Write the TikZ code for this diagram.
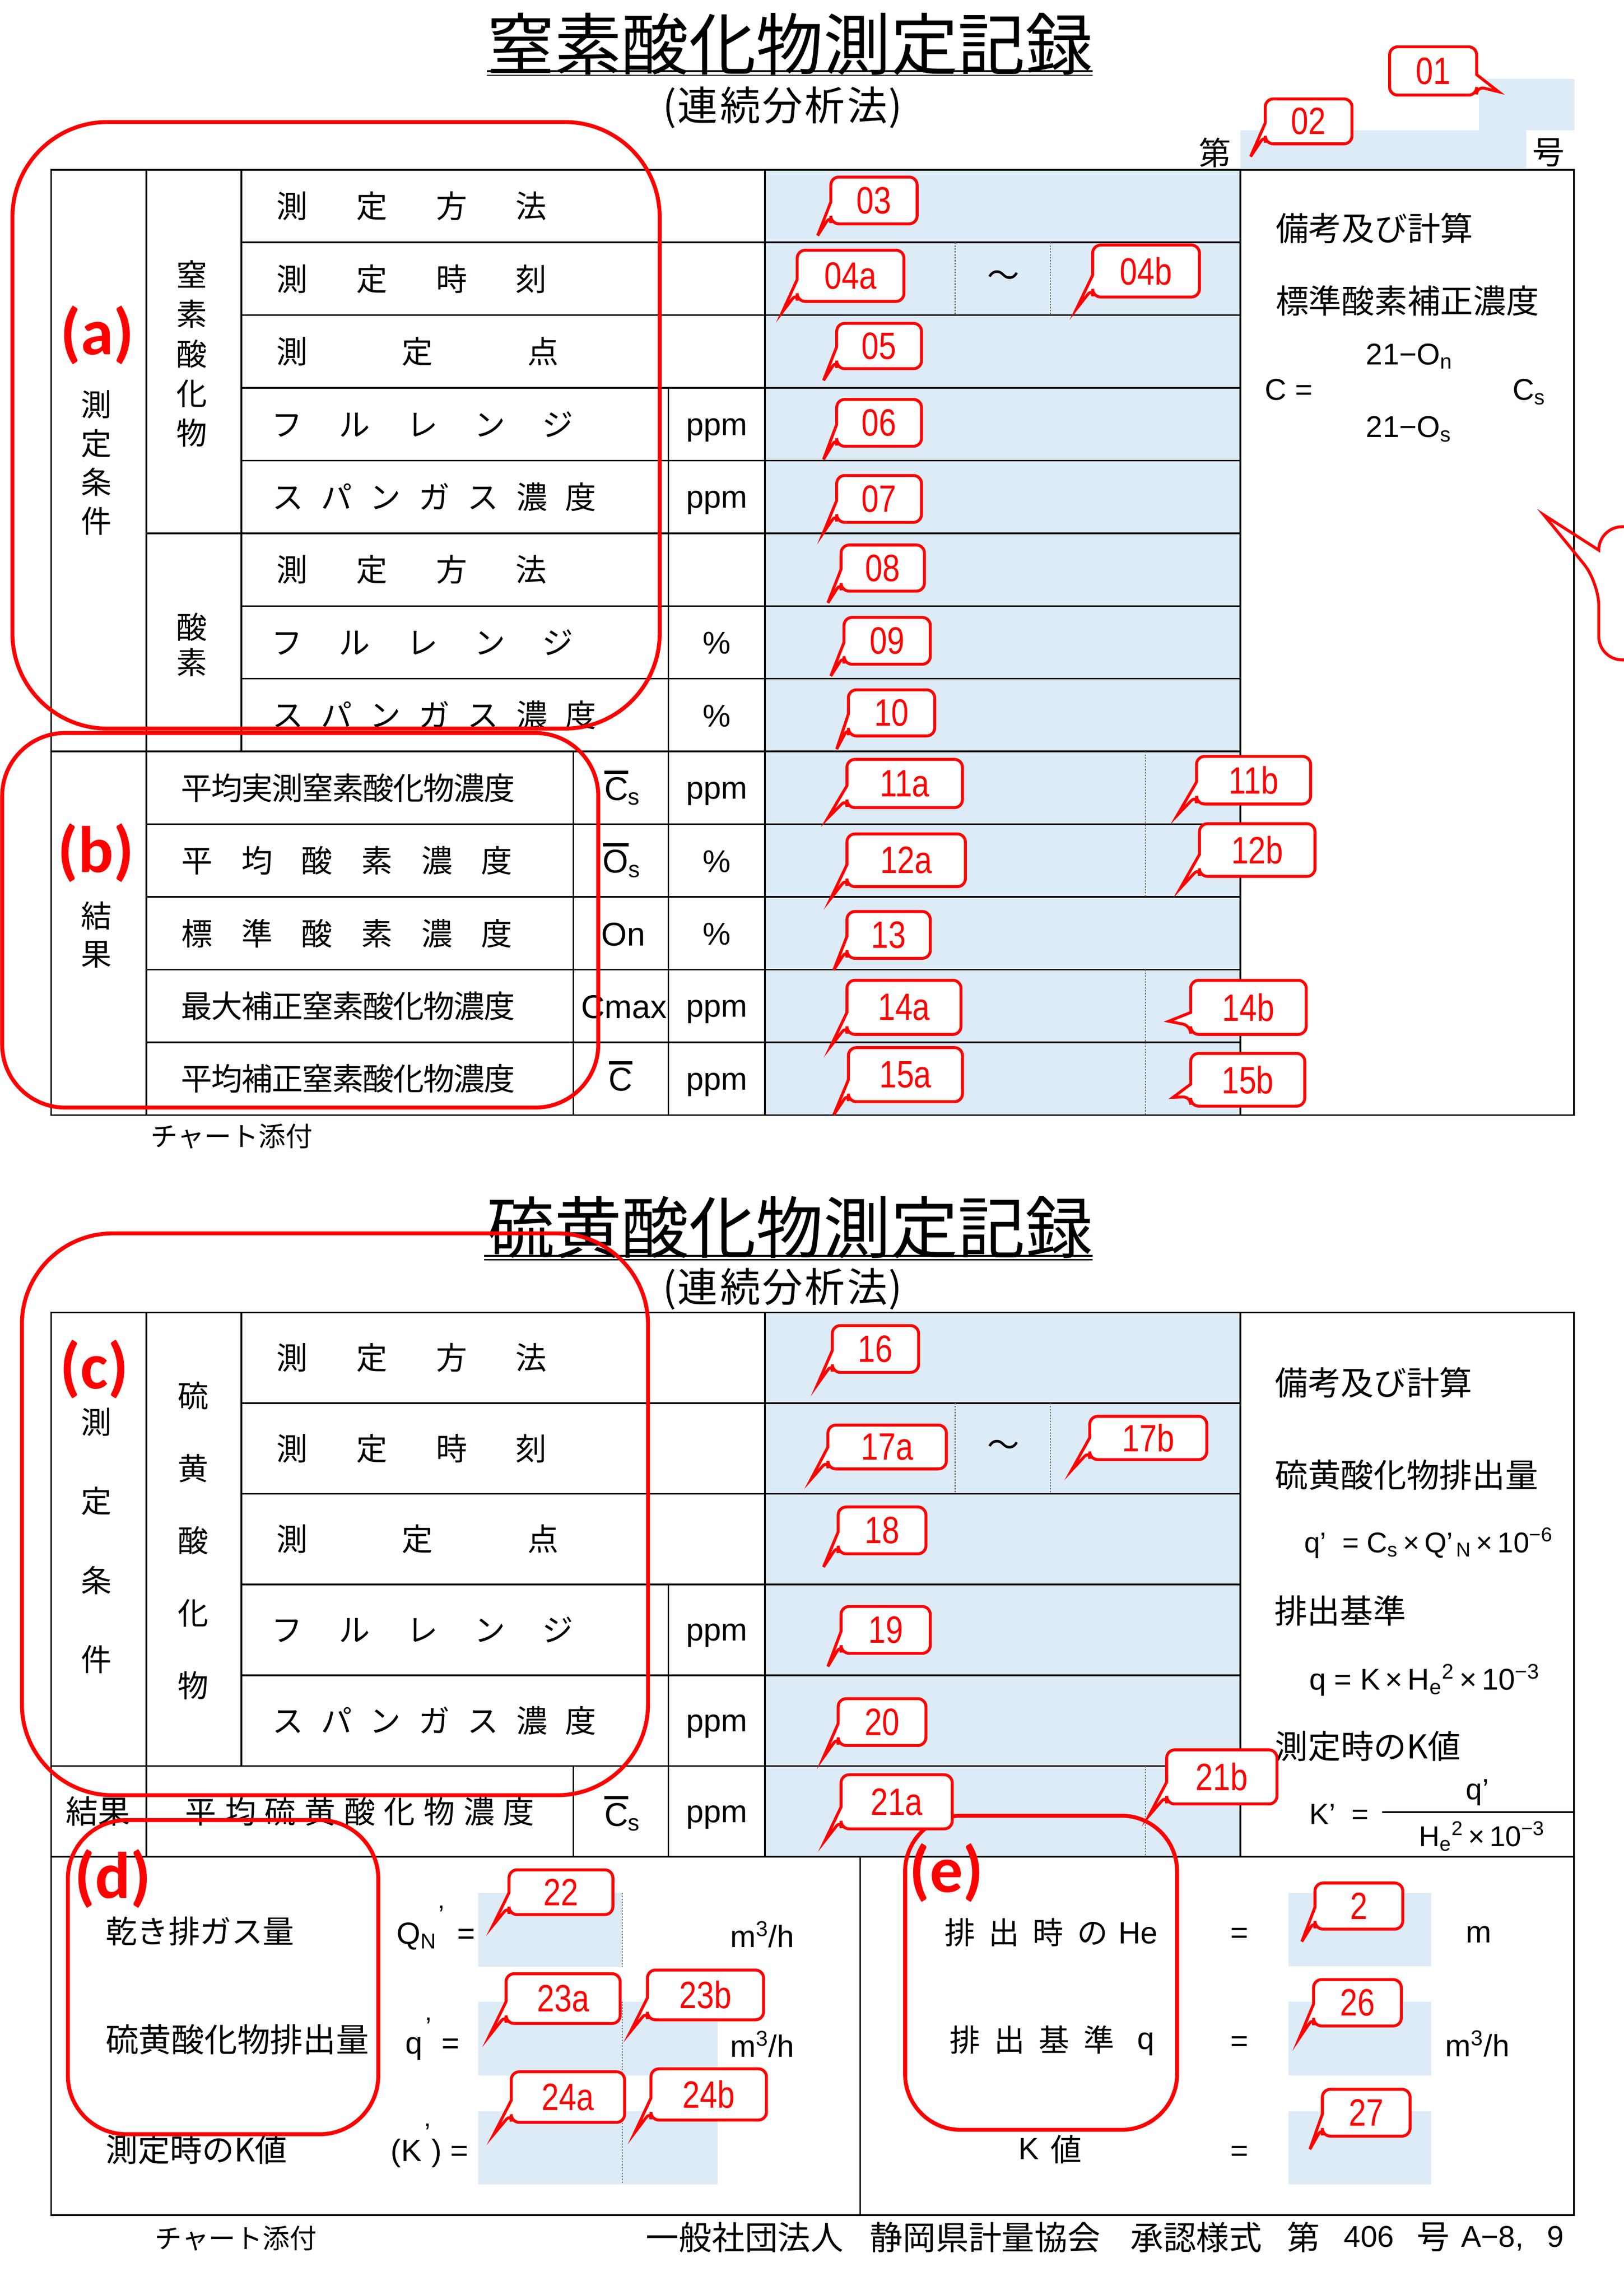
\documentclass[tikz,border=0pt]{standalone}
\usepackage{fontspec}
\usepackage{graphicx}
\setmainfont{Noto Sans CJK JP}
\newfontfamily\lat{Liberation Sans}
\newfontfamily\calfont{Carlito}
\definecolor{cellblue}{RGB}{221,235,247}
\def\sppitch{10pt}
\newcommand\spread[2]{\def\sppitch{#1}\spreadloop#2\relax}
\def\spreadloop#1{\ifx#1\relax\else\makebox[\sppitch][c]{#1}\expandafter\spreadloop\fi}
\newcommand\barred[1]{\vbox{\hrule height 2.2pt\kern 2.4pt\hbox{#1}}}
\newcommand\hiprime[1]{\rlap{\raisebox{#1}{\fontsize{18}{20}\selectfont\textquoteright}}}
% callout with tail on the left side: x1 y1 x2 y2 base1 base2 tipx tipy text
\newcommand\cL[9]{%
  \draw[callout] (#1,#5) -- (#1,#2) -- (#3,#2) -- (#3,#4) -- (#1,#4) -- (#1,#6) [sharp corners] -- (#7,#8) -- cycle;
  \node[cnum] (c#9) at ({(#1+#3)/2},{(#2+#4)/2}) {\scalebox{0.82}[1]{#9}};}
% callout with tail on the right side
\newcommand\cR[9]{%
  \draw[callout] (#3,#5) -- (#3,#2) -- (#1,#2) -- (#1,#4) -- (#3,#4) -- (#3,#6) [sharp corners] -- (#7,#8) -- cycle;
  \node[cnum] (c#9) at ({(#1+#3)/2},{(#2+#4)/2}) {\scalebox{0.82}[1]{#9}};}
\newcommand\cl[7]{\cL{#1}{#2}{#3}{#4}{#4-15}{#4-6}{#5}{#6}{#7}}
\begin{document}
\begin{tikzpicture}[x=1pt,y=-1pt,
  tbl/.style={line width=1.1pt},
  dots/.style={line width=0.7pt, dash pattern=on 1pt off 1pt, black!60},
  title/.style={inner sep=0pt, font=\fontsize{46}{50}\selectfont},
  subt/.style={inner sep=0pt, font=\fontsize{27.5}{30}\selectfont},
  hdr/.style={inner sep=0pt, font=\fontsize{22}{26}\selectfont},
  lab/.style={inner sep=0pt, anchor=west, font=\fontsize{21.3}{24}\selectfont},
  clab/.style={inner sep=0pt, font=\fontsize{21.3}{24}\selectfont},
  sym/.style={inner sep=0pt, anchor=base west, font=\lat\fontsize{22.5}{26}\selectfont},
  unit/.style={inner sep=0pt, anchor=base, font=\lat\fontsize{21.5}{26}\selectfont},
  rc/.style={inner sep=0pt, anchor=west, font=\fontsize{22.5}{26}\selectfont},
  fm/.style={inner sep=0pt, anchor=base west, font=\lat\fontsize{20.5}{24}\selectfont},
  fmc/.style={inner sep=0pt, anchor=base, font=\lat\fontsize{21}{24}\selectfont},
  small/.style={inner sep=0pt, anchor=west, font=\fontsize{18.5}{22}\selectfont},
  callout/.style={draw=red, fill=white, line width=2pt, rounded corners=5.5pt},
  cnum/.style={inner sep=0pt, text=red, font=\lat\fontsize{26}{28}\selectfont},
  bigred/.style={draw=red, line width=2.7pt},
  tag/.style={inner sep=0pt, text=red, font=\calfont\bfseries\fontsize{45}{50}\selectfont}]
\useasboundingbox (0,0) rectangle (1110,1568.6);
\fill[white] (0,0) rectangle (1110,1568.6);

% ---------- blue fills ----------
\fill[cellblue] (848,89) rectangle (1043.4,116);
\fill[cellblue] (1011,54) rectangle (1076.4,89);
\fill[cellblue] (523,116) rectangle (848,762.1);
\fill[cellblue] (523,897) rectangle (848,1269);
\fill[cellblue] (327,1293.7) rectangle (425.5,1344.3);
\fill[cellblue] (327,1368) rectangle (490.5,1418.5);
\fill[cellblue] (327,1443) rectangle (490.5,1493);
\fill[cellblue] (881,1293.7) rectangle (978.4,1344);
\fill[cellblue] (881,1368) rectangle (978.4,1418.5);
\fill[cellblue] (881,1443) rectangle (978.4,1493);

% ---------- titles ----------
\node[title] (t1) at (540,30) {窒素酸化物測定記録};
\draw[line width=1.4pt] (333,48.7) -- (747,48.7);
\draw[line width=0.8pt] (333,51.4) -- (747,51.4);
\node[subt, anchor=west] (s1) at (453,73.5) {(\spread{29pt}{連続分析法})};
\node[hdr] (dai) at (830.7,104.5) {第};
\node[hdr] (go) at (1058.5,104.4) {号};

\node[title] (t2) at (540,839) {硫黄酸化物測定記録};
\draw[line width=1.4pt] (331,858.3) -- (747,858.3);
\draw[line width=0.8pt] (331,861) -- (747,861);
\node[subt, anchor=west] (s2) at (453,881) {(\spread{29pt}{連続分析法})};

% ---------- table 1 lines ----------
\draw[tbl] (35,116) rectangle (1076,762.1);
\draw[tbl] (100,116) -- (100,762.1);
\draw[tbl] (165,116) -- (165,513.6);
\draw[tbl] (392,513.6) -- (392,762.1);
\draw[tbl] (457,265.1) -- (457,762.1);
\draw[tbl] (523,116) -- (523,762.1);
\draw[tbl] (848,116) -- (848,762.1);
\foreach \yy in {165.7,215.4,265.1,314.8,414.2,463.9}
  \draw[tbl] (165,\yy) -- (848,\yy);
\draw[tbl] (100,364.5) -- (848,364.5);
\draw[tbl] (35,513.6) -- (848,513.6);
\foreach \yy in {563.3,613,662.7,712.4}
  \draw[tbl] (100,\yy) -- (848,\yy);
\draw[dots] (653,165.7) -- (653,215.4);
\draw[dots] (718,165.7) -- (718,215.4);
\draw[dots] (783,513.6) -- (783,613);
\draw[dots] (783,662.7) -- (783,762.1);

% ---------- table 1 texts ----------
\node[clab, align=center, font=\fontsize{21}{26.5}\selectfont] (v1) at (66,316.25) {測\\定\\条\\件};
\node[clab, align=center, font=\fontsize{21}{27.1}\selectfont] (v2) at (131,241.8) {窒\\素\\酸\\化\\物};
\node[clab, align=center, font=\fontsize{21}{24.3}\selectfont] (v3) at (131,440.6) {酸\\素};
\node[clab, align=center, font=\fontsize{21}{26}\selectfont] (v4) at (66,639) {結\\果};

\node[lab] (a1) at (172.25,140.85) {\spread{54.5pt}{測定方法}};
\node[lab] (a2) at (172.25,190.55) {\spread{54.5pt}{測定時刻}};
\node[lab] (a3) at (156.6,240.25) {\spread{85.75pt}{測定点}};
\node[lab] (a4) at (172.9,289.95) {\spread{46.25pt}{フルレンジ}};
\node[lab] (a5) at (179.8,339.65) {\spread{33.4pt}{スパンガス濃度}};
\node[lab] (a6) at (172.25,389.35) {\spread{54.5pt}{測定方法}};
\node[lab] (a7) at (172.9,439.05) {\spread{46.25pt}{フルレンジ}};
\node[lab] (a8) at (179.8,488.75) {\spread{33.4pt}{スパンガス濃度}};
\node[lab] (a9) at (124,538.45) {\spread{20.7pt}{平均実測窒素酸化物濃度}};
\node[lab] (a10) at (114,588.15) {\spread{41pt}{平均酸素濃度}};
\node[lab] (a11) at (114,637.85) {\spread{41pt}{標準酸素濃度}};
\node[lab] (a12) at (124,687.55) {\spread{20.7pt}{最大補正窒素酸化物濃度}};
\node[lab] (a13) at (124,737.25) {\spread{20.7pt}{平均補正窒素酸化物濃度}};

\node[hdr] (tilde1) at (686,190.55) {～};

\node[unit] (u4) at (490,297.5) {ppm};
\node[unit] (u5) at (490,347.2) {ppm};
\node[unit] (u7) at (490,447) {\%};
\node[unit] (u8) at (490,496.7) {\%};
\node[unit] (u9) at (490,546) {ppm};
\node[unit] (u10) at (490,596.1) {\%};
\node[unit] (u11) at (490,645.8) {\%};
\node[unit] (u12) at (490,695) {ppm};
\node[unit] (u13) at (490,744.8) {ppm};

\node[sym] (y9) at (413,547) {\barred{C}\textsubscript{s}};
\node[sym] (y10) at (412,596.6) {\barred{O}\textsubscript{s}};
\node[sym] (y11) at (411,646.3) {On};
\node[sym] (y12) at (397,696) {Cmax};
\node[sym] (y13) at (416,745.7) {\barred{C}};

\node[rc] (bk1) at (872,156) {備考及び計算};
\node[rc] (hs1) at (872,205.5) {標準酸素補正濃度};
\node[fm] (f1) at (933.7,249.1) {21−O\textsubscript{n}};
\node[fm] (f2) at (864.7,273.5) {C =};
\node[fm] (f3) at (1034,273.5) {C\textsubscript{s}};
\node[fm] (f4) at (933.7,298.7) {21−O\textsubscript{s}};

\node[small] (ch1) at (102.7,776.6) {チャート添付};

% ---------- table 2 lines ----------
\draw[tbl] (35,897) rectangle (1076,1514);
\draw[tbl] (100,897) -- (100,1269);
\draw[tbl] (165,897) -- (165,1207);
\draw[tbl] (457,1083) -- (457,1269);
\draw[tbl] (392,1207) -- (392,1269);
\draw[tbl] (523,897) -- (523,1269);
\draw[tbl] (848,897) -- (848,1269);
\draw[tbl] (588,1269) -- (588,1514);
\foreach \yy in {959,1021,1083,1145}
  \draw[tbl] (165,\yy) -- (848,\yy);
\draw[tbl] (35,1207) -- (848,1207);
\draw[tbl] (35,1269) -- (1076,1269);
\draw[dots] (653,959) -- (653,1021);
\draw[dots] (718,959) -- (718,1021);
\draw[dots] (783,1207) -- (783,1269);
\draw[dots] (425.5,1293.7) -- (425.5,1344.3);
\draw[dots] (425.5,1368) -- (425.5,1418.5);
\draw[dots] (425.5,1443) -- (425.5,1493);
\draw[tbl] (945,1238.5) -- (1076,1238.5);

% ---------- table 2 texts ----------
\node[clab, align=center, font=\fontsize{21}{54}\selectfont] (w1) at (66,1053) {測\\定\\条\\件};
\node[clab, align=center, font=\fontsize{21}{49.5}\selectfont] (w2) at (132,1053) {硫\\黄\\酸\\化\\物};
\node[clab, font=\fontsize{22}{24}\selectfont] (w3) at (67,1238) {結果};

\node[lab] (b1) at (172.25,928) {\spread{54.5pt}{測定方法}};
\node[lab] (b2) at (172.25,990) {\spread{54.5pt}{測定時刻}};
\node[lab] (b3) at (156.6,1052) {\spread{85.75pt}{測定点}};
\node[lab] (b4) at (172.9,1114) {\spread{46.25pt}{フルレンジ}};
\node[lab] (b5) at (179.8,1176) {\spread{33.4pt}{スパンガス濃度}};
\node[lab] (b6) at (123.4,1238) {\spread{27.2pt}{平均硫黄酸化物濃度}};
\node[hdr] (tilde2) at (686,990) {～};
\node[unit] (v4u) at (490,1121.5) {ppm};
\node[unit] (v5u) at (490,1183.5) {ppm};
\node[unit] (v6u) at (490,1245.5) {ppm};
\node[sym] (z6) at (413,1248) {\barred{C}\textsubscript{s}};

\node[rc] (bk2) at (871.4,945) {備考及び計算};
\node[rc] (hs2) at (871.4,1008) {硫黄酸化物排出量};
\node[fm, font=\lat\fontsize{19.5}{24}\selectfont] (g1) at (891.5,1061) {q\textquoteright\ \ = C\textsubscript{s}\,×\,Q\textquoteright\textsubscript{\,N}\,×\,10\textsuperscript{−6}};
\node[rc] (hs3) at (871,1101) {排出基準};
\node[fm, font=\lat\fontsize{20.5}{24}\selectfont] (g2) at (895,1155) {q = K\,×\,H\textsubscript{e}\textsuperscript{2}\,×\,10\textsuperscript{−3}};
\node[rc] (hs4) at (871.5,1193.6) {測定時のK値};
\node[fm, font=\lat\fontsize{20}{24}\selectfont] (g3) at (895,1247) {K\textquoteright\ \ =};
\node[inner sep=0pt, font=\lat\fontsize{20}{24}\selectfont] (g4) at (1010,1225) {q\textquoteright};
\node[fm, font=\lat\fontsize{19.5}{24}\selectfont] (g5) at (970,1262) {H\textsubscript{e}\textsuperscript{2}\,×\,10\textsuperscript{−3}};

% ---------- bottom section ----------
\node[rc, font=\fontsize{21.5}{26}\selectfont] (d1) at (72,1320) {乾き排ガス量};
\node[rc, font=\fontsize{22.5}{26}\selectfont] (d2) at (72,1394) {硫黄酸化物排出量};
\node[rc, font=\fontsize{22}{26}\selectfont] (d3) at (72,1469) {測定時のK値};
\node[fm, font=\lat\fontsize{21}{24}\selectfont] (q1) at (271,1328.8) {Q\textsubscript{N}\hspace{1pt}\hiprime{14pt}\hspace{13pt}=};
\node[fm, font=\lat\fontsize{21}{24}\selectfont] (q2) at (277,1403.6) {q\hspace{2pt}\hiprime{12pt}\hspace{11pt}=};
\node[fm, font=\lat\fontsize{21}{24}\selectfont] (q3) at (267,1477) {(K\hspace{2pt}\hiprime{13pt}\hspace{5pt}) =};
\node[fm, font=\lat\fontsize{21}{24}\selectfont] (m1) at (499,1331) {m\textsuperscript{3}/h};
\node[fm, font=\lat\fontsize{21}{24}\selectfont] (m2) at (499,1405.8) {m\textsuperscript{3}/h};

\node[lab, font=\fontsize{21}{24}\selectfont] (e1) at (640.9,1320.8) {\spread{30.2pt}{排出時の}};
\node[fmc] (e1h) at (778,1328.3) {He};
\node[lab, font=\fontsize{21}{24}\selectfont] (e2) at (644.3,1394) {\spread{30.5pt}{排出基準}};
\node[fmc] (e2q) at (783.3,1400.5) {q};
\node[fmc] (e3k) at (703.2,1476) {K};
\node[clab] (e3v) at (729,1469) {値};
\node[fmc] (eq1) at (847.4,1328) {=};
\node[fmc] (eq2) at (847.4,1402) {=};
\node[fmc] (eq3) at (847.4,1477) {=};
\node[fmc] (m3) at (1011,1327.7) {m};
\node[fm, font=\lat\fontsize{21}{24}\selectfont] (m4) at (988,1405.5) {m\textsuperscript{3}/h};

% ---------- footer ----------
\node[small] (ch2) at (105.7,1530) {チャート添付};
\node[rc, font=\fontsize{22.5}{26}\selectfont] (ft1) at (441.5,1529) {一般社団法人};
\node[rc, font=\fontsize{22.5}{26}\selectfont] (ft2) at (594.6,1529) {静岡県計量協会};
\node[rc, font=\fontsize{22.5}{26}\selectfont] (ft3) at (772.6,1529) {承認様式};
\node[rc, font=\fontsize{22.5}{26}\selectfont] (ft4) at (879.5,1529) {第};
\node[fm] (ft5) at (918.6,1535.7) {406};
\node[rc, font=\fontsize{22.5}{26}\selectfont] (ft6) at (968.5,1529) {号};
\node[fm] (ft7) at (998.7,1535.7) {A−8,};
\node[fm] (ft8) at (1057.4,1535.7) {9};

% ---------- big red outlines ----------
\draw[bigred, rounded corners=65pt] (8.5,83.4) rectangle (451,498);
\draw[bigred, rounded corners=43pt] (1.5,501) rectangle (409,757);
\draw[bigred, rounded corners=62pt] (15,843) rectangle (443,1227);
\draw[bigred, rounded corners=40pt] (46.4,1244) rectangle (258.6,1458.7);
\draw[bigred, rounded corners=38pt] (618.8,1241) rectangle (804.7,1455.7);
\node[tag] (ta) at (66.5,229) {(a)};
\node[tag] (tb) at (65.5,583) {(b)};
\node[tag] (tc) at (64.5,936) {(c)};
\node[tag] (td) at (77,1284) {(d)};
\node[tag] (te) at (647,1280) {(e)};

% ---------- callouts ----------
\cR{950}{32}{1009.5}{65}{51}{59}{1024.5}{62.7}{01}
\cL{865}{67.6}{924.3}{98.3}{84}{92}{855}{107}{02}
\cl{568}{121}{627}{153}{559}{161}{03}
\cl{545}{171}{618}{206}{535}{213}{04a}
\cl{747}{167.5}{820}{203}{736}{211}{04b}
\cl{572}{221}{630}{252}{563}{260}{05}
\cl{572}{273}{630}{305}{563}{314}{06}
\cl{572}{325}{630}{357}{563}{364}{07}
\cl{575}{372.5}{632}{404}{566}{412}{08}
\cl{577}{422}{636}{454}{568}{462}{09}
\cl{580}{471.5}{639}{503}{572}{512}{10}
\cl{579}{519}{658}{552}{566}{559}{11a}
\cl{818}{517}{896}{549.5}{805}{557}{11b}
\cl{579}{570}{660}{606}{568}{614}{12a}
\cl{820}{563}{899}{599}{807}{607}{12b}
\cl{579}{623}{636}{655}{570}{663}{13}
\cl{579}{670}{657}{707}{568}{715}{14a}
\cL{814}{670}{893}{707}{692}{701}{799}{698}{14b}
\cl{580}{716}{658}{753}{570}{762}{15a}
\cL{814}{720}{892}{756}{741}{749.5}{802}{750}{15b}
\cl{569}{906}{628}{938}{559}{946}{16}
\cl{566}{974}{647}{1004}{554.5}{1011}{17a}
\cl{745}{968}{825}{997.6}{732.5}{1005}{17b}
\cl{573}{1030}{633}{1062}{563}{1071}{18}
\cl{575}{1098}{636}{1130}{566}{1139}{19}
\cl{573}{1161}{633}{1193}{563}{1201}{20}
\cl{575}{1213}{651}{1250}{564}{1258}{21a}
\cl{797.6}{1196}{873}{1233}{785.5}{1241}{21b}
\cl{348}{1278}{419}{1308.6}{337}{1316}{22}
\cl{346}{1349}{424}{1383}{334.6}{1391.4}{23a}
\cl{442.6}{1346.5}{522}{1380.5}{431}{1388.6}{23b}
\cl{349.5}{1416}{427}{1450.6}{337.6}{1458.7}{24a}
\cl{445}{1414}{524}{1449}{434}{1457.5}{24b}
\cl{899}{1287}{959}{1318.5}{890}{1327}{2}
\cl{898}{1353}{958}{1384.7}{888.3}{1393}{26}
\cl{904}{1428}{964}{1460}{895.5}{1469}{27}

% partial callout at the right edge
\draw[draw=red, line width=2pt, rounded corners=16pt] (1093,376) -- (1093,360) -- (1200,360) -- (1200,451) -- (1093,451) -- (1093,398) [sharp corners] -- (1055.5,352) -- cycle;
\end{tikzpicture}
\end{document}
